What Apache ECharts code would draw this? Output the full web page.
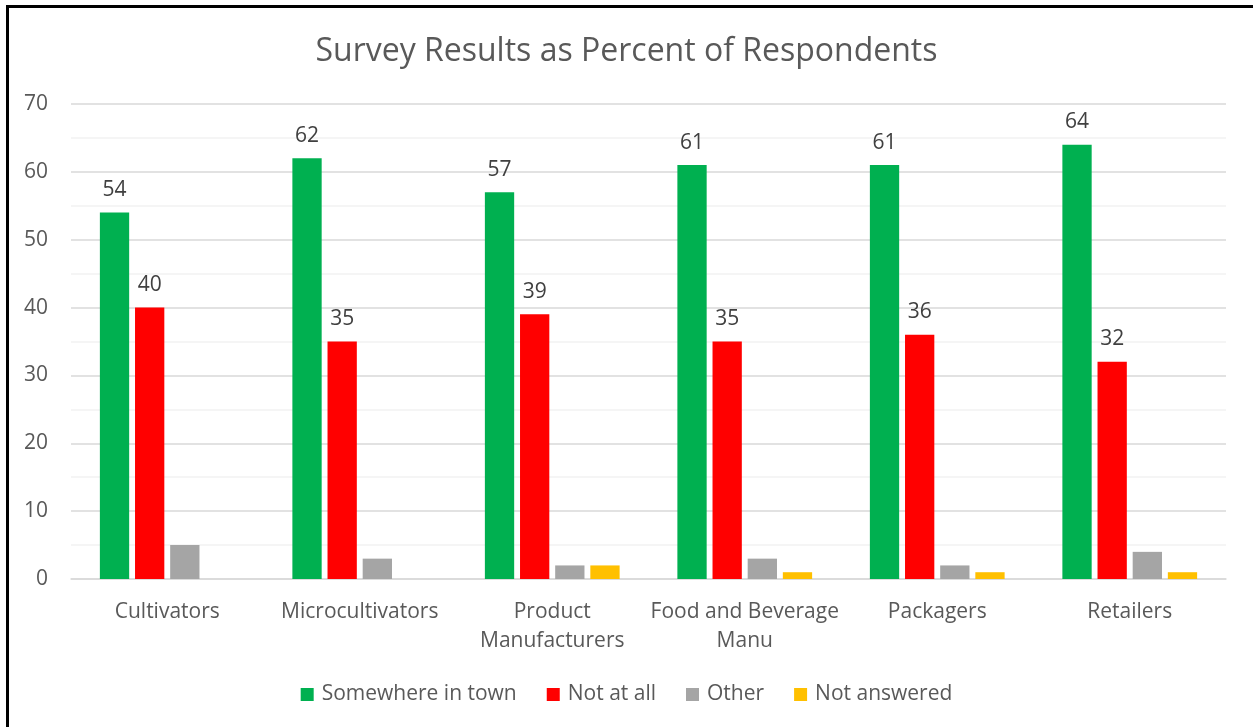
<!DOCTYPE html>
<html><head><meta charset="utf-8">
<script src="https://cdn.jsdelivr.net/npm/echarts@6/dist/echarts.min.js"></script>
<style>
html,body{margin:0;padding:0;background:#fff;}
#frame{position:absolute;left:6px;top:5px;width:1260px;height:740px;border-left:3px solid #000;border-top:3px solid #000;}
#c{position:absolute;left:0;top:0;width:1253px;height:727px;}
</style></head><body>
<div id="frame"></div>
<div id="c"></div>
<script>
const categories = ['Cultivators','Microcultivators','Product\nManufacturers','Food and Beverage\nManu','Packagers','Retailers'];
const seriesNames = ['Somewhere in town','Not at all','Other','Not answered'];
const somewhere = [54,62,57,61,61,64];
const notAtAll = [40,35,39,35,36,32];
const other = [5,3,2,3,2,4];
const notAnswered = [0,0,2,1,1,1];
const yTicks = [0,10,20,30,40,50,60,70];

const colors = ['#00B050','#FF0000','#A5A5A5','#FFC000'];
const values = [somewhere, notAtAll, other, notAnswered];
const chart = echarts.init(document.getElementById('c'));
const font = '"Open Sans", "Noto Sans", sans-serif';
chart.setOption({
  animation:false,
  textStyle:{fontFamily:font},
  title:{text:'Survey Results as Percent of Respondents',left:'center',top:31,textStyle:{fontFamily:font,fontSize:32,fontWeight:'normal',color:'#595959'}},
  legend:{bottom:17,left:'center',itemWidth:13,itemHeight:13,itemGap:30,icon:'rect',textStyle:{fontFamily:font,fontSize:21,color:'#595959',padding:[0,0,0,3]},data:seriesNames},
  grid:{left:71,right:27,top:104,bottom:148,containLabel:false},
  xAxis:{type:'category',data:categories,axisTick:{show:false},axisLine:{lineStyle:{color:'#D9D9D9',width:1.5}},
    axisLabel:{fontFamily:font,fontSize:21,color:'#595959',margin:19,lineHeight:29,interval:0}},
  yAxis:{type:'value',min:yTicks[0],max:yTicks[yTicks.length-1],interval:10,
    axisLabel:{fontFamily:font,fontSize:21,color:'#595959',margin:23},
    splitLine:{lineStyle:{color:'#D9D9D9',width:1.5}},
    minorTick:{show:false,splitNumber:2},
    minorSplitLine:{show:true,lineStyle:{color:'#F2F2F2',width:1.5}},
    axisLine:{show:false},axisTick:{show:false}},
  series: seriesNames.map((n,i)=>({
    name:n,type:'bar',data:values[i],barGap:'20%',barCategoryGap:'30%',
    itemStyle:{color:colors[i]},
    label:{show:i<2,position:'top',distance:12,fontFamily:font,fontSize:21,color:'#404040'}
  }))
});
</script>
</body></html>
